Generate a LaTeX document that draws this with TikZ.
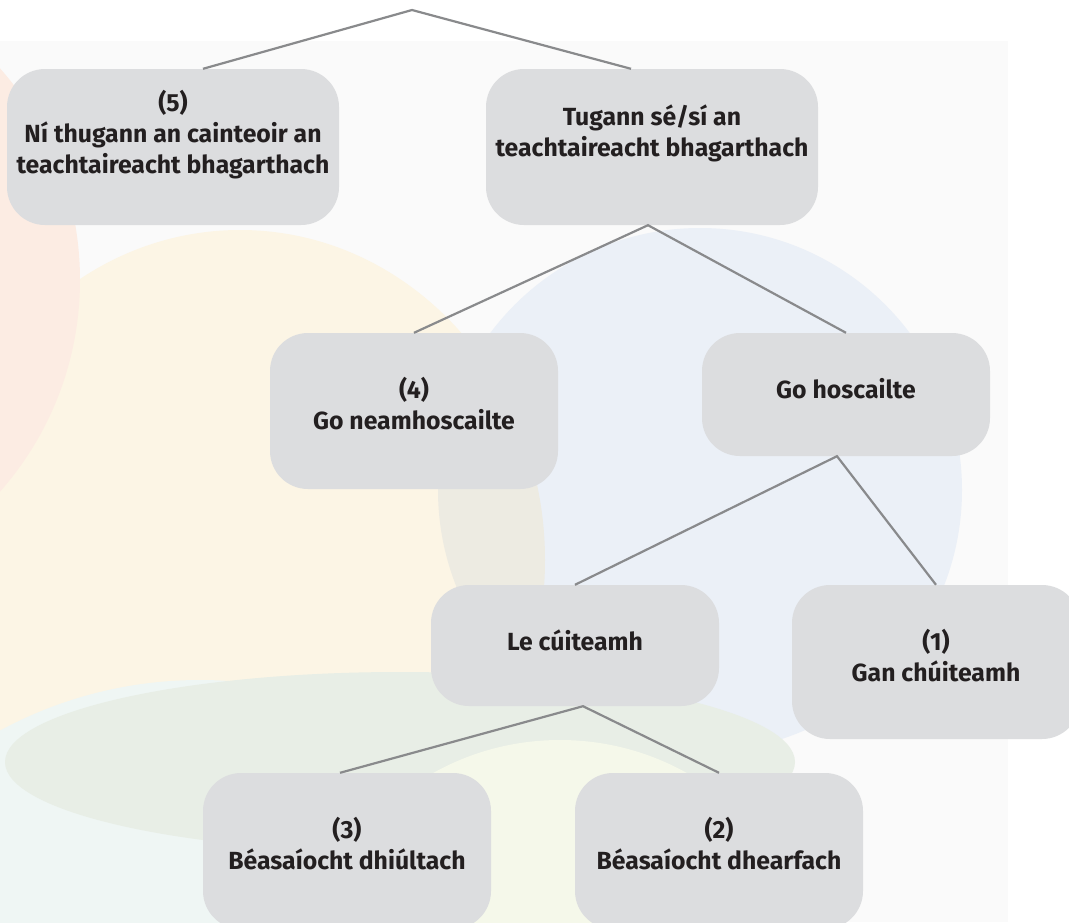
\documentclass[tikz,border=0pt]{standalone}
\usepackage{fontspec}
\setmainfont{Fira Sans}
\definecolor{panelgray}{HTML}{FAFAFA}
\definecolor{creamc}{HTML}{FCF5E5}
\definecolor{pinkc}{HTML}{FCECE3}
\definecolor{bluec}{HTML}{F0F5FC}
\definecolor{tealc}{HTML}{EFF6F4}
\definecolor{greenc}{HTML}{E8EEE6}
\definecolor{ygreenc}{HTML}{F5F8EA}
\definecolor{boxgray}{HTML}{DCDDDF}
\definecolor{ink}{HTML}{231F20}
\definecolor{linegray}{HTML}{898A8C}
\tikzset{
  box/.style={fill=boxgray, rounded corners=38pt, inner sep=0pt, minimum width=288pt},
  txt/.style={font=\fontsize{24.8}{31}\selectfont\bfseries, align=center, text=ink, inner sep=0pt},
  conn/.style={draw=linegray, line width=2.2pt}
}
\begin{document}
\begin{tikzpicture}[x=1pt,y=-1pt]
\useasboundingbox (0,0) rectangle (1069,922);
\fill[white] (0,0) rectangle (1069,922);
% background
\begin{scope}
\clip (0,41) rectangle (1008,922);
\fill[panelgray] (0,41) rectangle (1008,922);
\fill[creamc] (240,560) ellipse [x radius=305pt, y radius=330pt];
\fill[pinkc] (-240,280) circle (320pt);
\begin{scope}[blend mode=multiply]
\fill[bluec] (700,490) circle (262pt);
\end{scope}
\fill[tealc] (200,1100) circle (420pt);
\fill[greenc] (400,762) ellipse [x radius=395pt, y radius=90pt];
\fill[ygreenc] (560,1000) circle (260pt);
\end{scope}
% boxes
\node[box, minimum width=332pt, minimum height=156pt] (b5) at (173,147) {};
\node[box, minimum width=332pt, minimum height=156pt] (bT) at (652,147) {};
\node[box, minimum height=156pt] (b4) at (414,411) {};
\node[box, minimum height=123pt] (bGoH) at (846,394.5) {};
\node[box, minimum height=121pt] (bLe) at (575,645.5) {};
\node[box, minimum height=154pt] (b1) at (936,662) {};
\node[box, minimum height=156pt] (b3) at (347,851) {};
\node[box, minimum height=156pt] (b2) at (719,851) {};
% texts
\node[txt] (t5) at (173,135) {(5)\\Ní thugann an cainteoir an\\teachtaireacht bhagarthach};
\node[txt] (tT) at (652,133) {Tugann sé/sí an\\teachtaireacht bhagarthach};
\node[txt] (t4) at (414,403.5) {(4)\\Go neamhoscailte};
\node[txt] (tGoH) at (846,389) {Go hoscailte};
\node[txt] (tLe) at (575,640) {Le cúiteamh};
\node[txt] (t1) at (936,655.5) {(1)\\Gan chúiteamh};
\node[txt] (t3) at (347,844) {(3)\\Béasaíocht dhiúltach};
\node[txt] (t2) at (719,844) {(2)\\Béasaíocht dhearfach};
% connectors
\coordinate (apex) at (412,10);
\draw[conn] ([xshift=30pt]b5.north) -- (apex) -- ([xshift=-21pt]bT.north);
\draw[conn] (b4.north) -- ([xshift=-4pt]bT.south) -- (bGoH.north);
\draw[conn] (bLe.north) -- ([xshift=-9pt]bGoH.south) -- (b1.north);
\draw[conn] ([xshift=-7pt]b3.north) -- ([xshift=8pt]bLe.south) -- (b2.north);
\end{tikzpicture}
\end{document}
